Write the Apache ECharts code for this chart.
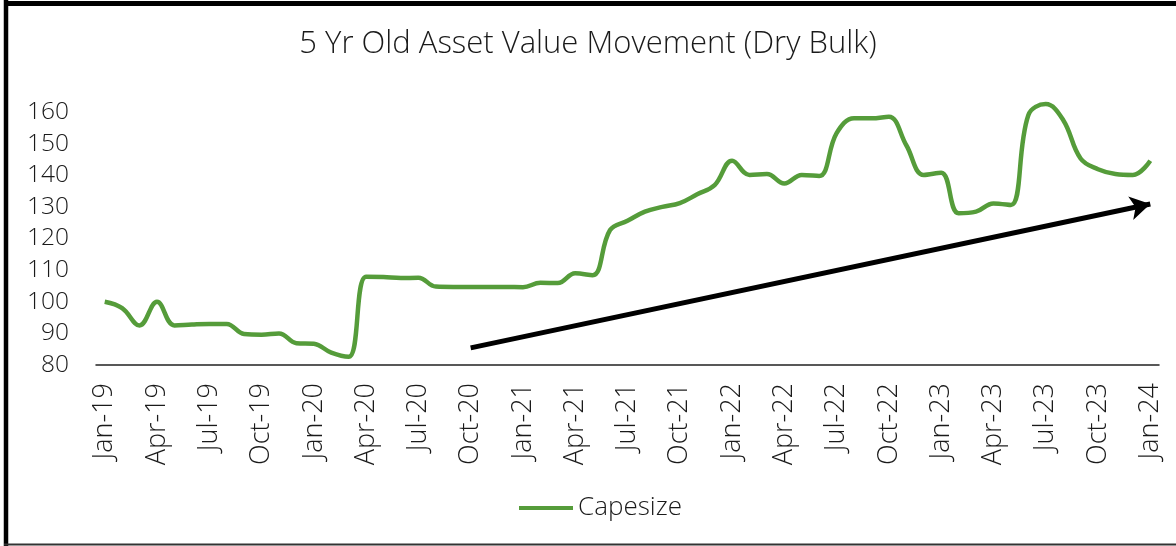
<!DOCTYPE html>
<html>
<head>
<meta charset="utf-8">
<script src="https://cdn.jsdelivr.net/npm/echarts@6/dist/echarts.min.js"></script>
<style>
  html, body { margin: 0; padding: 0; background: #fff; }
  #container { width: 1176px; height: 546px; }
</style>
</head>
<body>
<div id="container"></div>
<script>
// 5 yr old capesize asset value, monthly Jan-19 .. Jan-24
var months = ['Jan','Feb','Mar','Apr','May','Jun','Jul','Aug','Sep','Oct','Nov','Dec'];
var categories = [];
for (var y = 19; y <= 24; y++) {
    for (var m = 0; m < 12; m++) {
        if (y === 24 && m > 0) break;
        categories.push(months[m] + '-' + y);
    }
}

var capesize = [
    100, 98, 92.5, 100, 92.5, 92.8, 93, 93, 89.8, 89.6, 90, 86.9,   // 2019
    86.7, 83.9, 82.6, 107.9, 107.8, 107.5, 107.6, 104.8, 104.7, 104.7, 104.7, 104.7, // 2020
    104.6, 106, 105.9, 109, 108.4, 122.7, 125.6, 128.5, 130, 131.2, 134, 136.9,       // 2021
    144.6, 140.1, 140.4, 137.4, 140.1, 139.8, 153.3, 158, 158, 158.5, 149.5, 140.1,   // 2022
    140.8, 128, 128.5, 131.1, 130.6, 159, 162.5, 157.5, 145.3, 141.9, 140.4, 140.1,   // 2023
    144.6                                                                             // 2024
];

// trend arrow annotation (start / end)
var trendArrow = [['Oct-20', 85.4], ['Jan-24', 130.9]];

var font = '"Open Sans", "Noto Sans", sans-serif';
var textColor = '#1a1a1a';

var myChart = echarts.init(document.getElementById('container'));
var option = {
    backgroundColor: '#fff',
    animation: false,
    title: {
        text: '5 Yr Old Asset Value Movement (Dry Bulk)',
        left: 'center',
        top: 24,
        textStyle: { fontFamily: font, fontSize: 31, fontWeight: 300, color: textColor }
    },
    legend: {
        bottom: 20,
        left: 514,
        icon: 'rect',
        itemWidth: 54,
        itemHeight: 4,
        itemGap: 6,
        data: ['Capesize'],
        textStyle: { fontFamily: font, fontSize: 26, fontWeight: 300, color: textColor }
    },
    grid: { left: 96, right: 17, top: 80.4, bottom: 181 },
    xAxis: {
        type: 'category',
        data: categories,
        boundaryGap: true,
        axisLine: { lineStyle: { color: '#222', width: 1.5 } },
        axisTick: { interval: 2, length: 8, lineStyle: { color: '#222', width: 1.5 } },
        axisLabel: {
            interval: 2,
            rotate: 90,
            margin: 18,
            fontFamily: font,
            fontSize: 27,
            fontWeight: 300,
            color: textColor
        },
        splitLine: { show: false }
    },
    yAxis: {
        type: 'value',
        min: 80,
        max: 170,
        interval: 10,
        axisLine: { show: false },
        axisTick: { show: false },
        splitLine: { show: false },
        axisLabel: {
            margin: 27,
            fontFamily: font,
            fontSize: 24.5,
            fontWeight: 300,
            color: textColor,
            formatter: function (v) { return v === 170 ? '' : v; }
        }
    },
    series: [{
        name: 'Capesize',
        type: 'line',
        data: capesize,
        smooth: 0.4,
        symbol: 'none',
        lineStyle: { color: '#559c3a', width: 4.5 },
        itemStyle: { color: '#559c3a' },
        markLine: {
            silent: true,
            symbol: ['none', 'arrow'],
            symbolSize: [18, 20],
            label: { show: false },
            lineStyle: { color: '#000', width: 5, type: 'solid' },
            data: [[{ coord: trendArrow[0] }, { coord: trendArrow[1] }]]
        }
    }],
    graphic: [
        { type: 'line', shape: { x1: 6, y1: 0, x2: 6, y2: 546 }, style: { stroke: '#000', lineWidth: 4.5 } },
        { type: 'line', shape: { x1: 4, y1: 3.5, x2: 1176, y2: 3.5 }, style: { stroke: '#000', lineWidth: 5 } },
        { type: 'line', shape: { x1: 4, y1: 544.5, x2: 1176, y2: 544.5 }, style: { stroke: '#333', lineWidth: 2 } }
    ]
};

myChart.setOption(option);
</script>
</body>
</html>
